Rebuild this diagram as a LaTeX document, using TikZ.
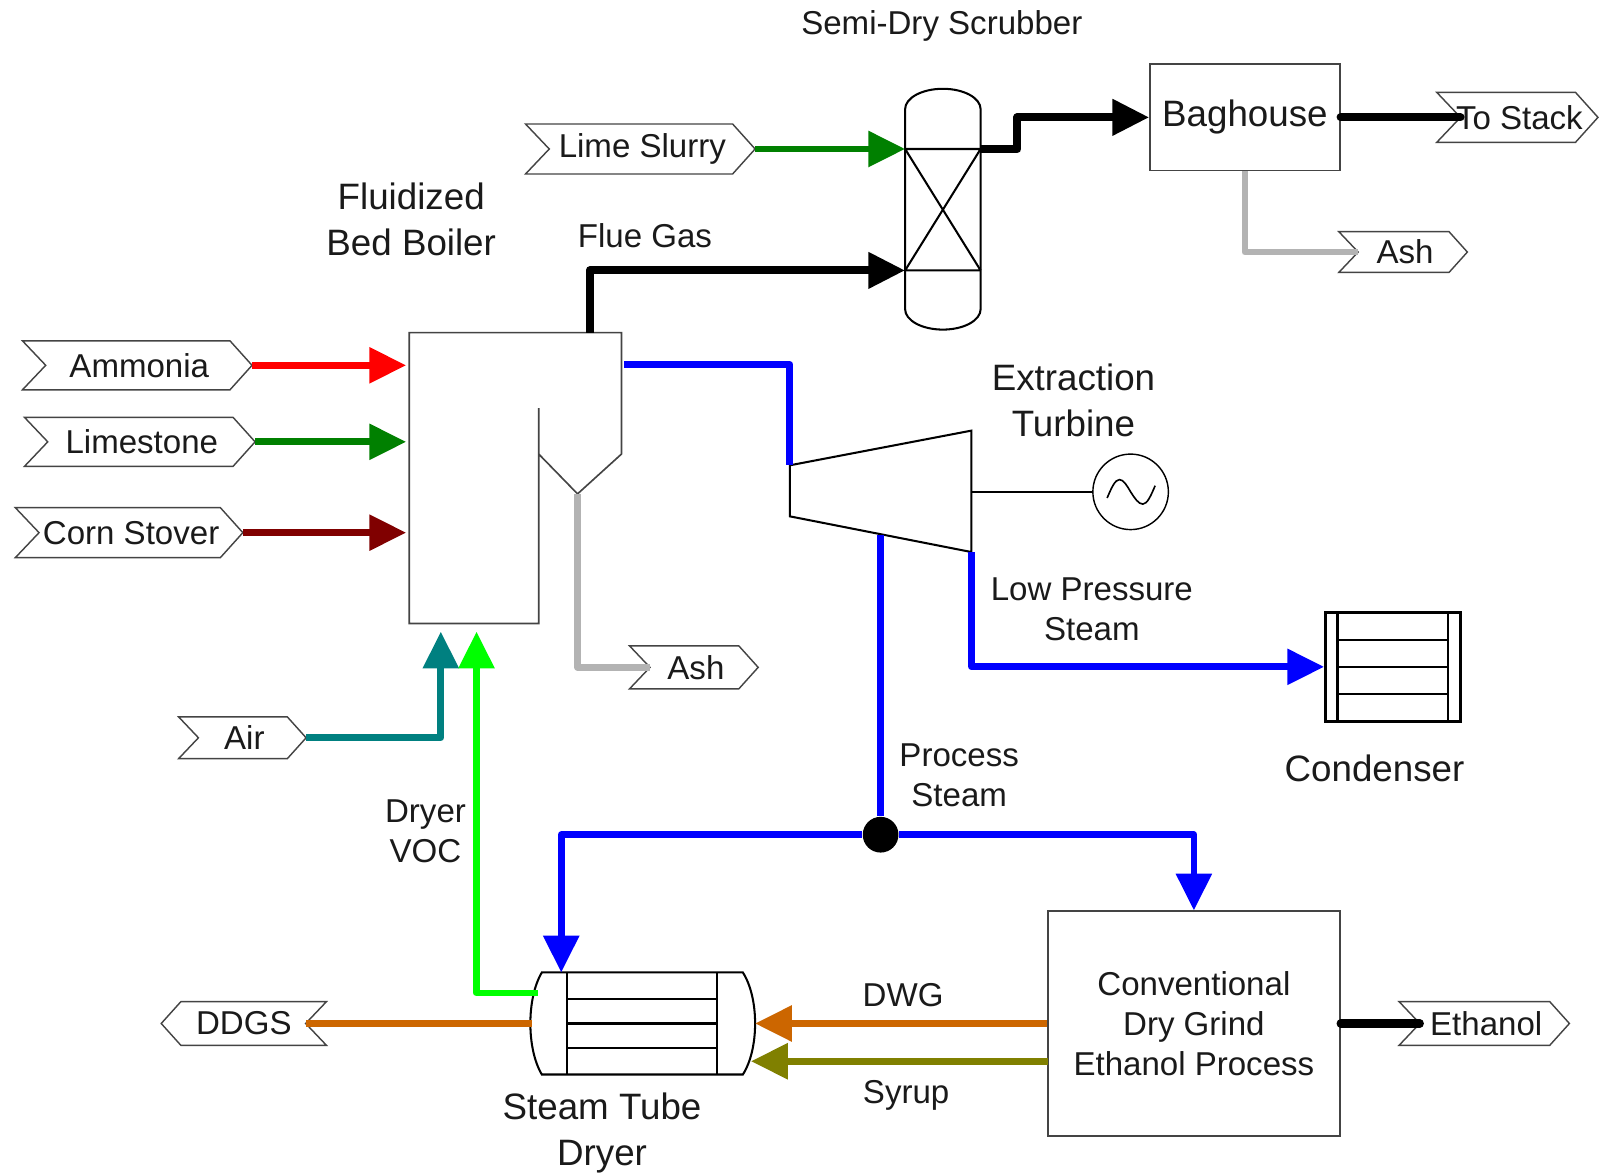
\documentclass[tikz,border=0pt]{standalone}
\usepackage{fontspec}
\setmainfont{Liberation Sans}
\usetikzlibrary{arrows.meta}
\definecolor{txt}{HTML}{1A1A1A}
\definecolor{outl}{HTML}{444444}
\definecolor{cred}{HTML}{FF0000}
\definecolor{cgreen}{HTML}{008000}
\definecolor{cdred}{HTML}{800000}
\definecolor{cteal}{HTML}{008080}
\definecolor{clime}{HTML}{00FF00}
\definecolor{cgray}{HTML}{B3B3B3}
\definecolor{cblue}{HTML}{0000FF}
\definecolor{corange}{HTML}{CC6600}
\definecolor{colive}{HTML}{808000}
\tikzset{
  big/.style={font=\fontsize{18}{22.5}\selectfont, align=center, text=txt, inner sep=0pt},
  small/.style={font=\fontsize{16.2}{19.5}\selectfont, align=center, text=txt, inner sep=0pt},
  tagline/.style={draw=outl, line width=0.7pt, fill=white},
  equip/.style={draw=outl, line width=0.8pt},
  equipk/.style={draw=black, line width=1pt},
  stream/.style={line width=3.3pt, line join=round},
  thick stream/.style={line width=4pt, line join=round},
  arr/.style={-{Triangle[length=18pt,width=17pt]}},
}
\newcommand\tagR[6]{%
  \draw[tagline] (#2,#4-#5) -- (#3-0.9*#5,#4-#5) -- (#3,#4) -- (#3-0.9*#5,#4+#5) -- (#2,#4+#5) -- (#2+0.95*#5,#4) -- cycle;
  \node[small] (#1) at ({(#2+#3)/2+2},#4) {#6};
  \coordinate (#1-in) at (#2+0.95*#5,#4);
  \coordinate (#1-out) at (#3,#4);
}
\newcommand\tagL[6]{%
  \draw[tagline] (#2,#4) -- (#2+0.9*#5,#4-#5) -- (#3,#4-#5) -- (#3-0.95*#5,#4) -- (#3,#4+#5) -- (#2+0.9*#5,#4+#5) -- cycle;
  \node[small] (#1) at ({(#2+#3)/2},#4) {#6};
  \coordinate (#1-in) at (#3-0.95*#5,#4);
}
\begin{document}
\begin{tikzpicture}[x=0.5pt,y=-0.5pt]
\useasboundingbox[fill=white] (0,0) rectangle (1568,1152);

% ---------- labels ----------
\node[small] (lscr) at (923,25) {Semi-Dry Scrubber};
\node[big] (lblr) at (403,215) {Fluidized\\Bed Boiler};
\node[small] (lflue) at (632,231) {Flue Gas};
\node[big] (lturb) at (1052,392) {Extraction\\Turbine};
\node[small] (llp) at (1070,597) {Low Pressure\\Steam};
\node[big] (lcond) at (1347,753) {Condenser};
\node[small] (lps) at (940,760) {Process\\Steam};
\node[small] (lvoc) at (417,815) {Dryer\\VOC};
\node[small] (ldwg) at (885,975) {DWG};
\node[small] (lsyr) at (888,1073) {Syrup};
\node[big] (ldry) at (590,1110) {Steam Tube\\Dryer};

% ---------- tags ----------
\tagR{ammonia}{22}{247}{358}{24}{Ammonia}
\tagR{limestone}{24}{250}{433}{24}{Limestone}
\tagR{corn}{15}{238}{522}{24.5}{Corn Stover}
\tagR{lime}{515}{740}{146}{24.5}{Lime Slurry}
\tagR{stack}{1408}{1566}{115}{24.5}{To Stack}
\tagR{ashA}{1312}{1438}{247}{20}{Ash}
\tagR{ashB}{617}{743}{654}{21}{Ash}
\tagR{air}{175}{300}{723}{20.5}{Air}
\tagR{ethanol}{1371}{1538}{1003}{21.5}{Ethanol}
\tagL{ddgs}{158}{320}{1003}{21.5}{DDGS}

% ---------- boiler ----------
\draw[equip] (528,400) -- (528,611) -- (401,611) -- (401,326) -- (609,326) -- (609,445) -- (566,484) -- (528,445);
\coordinate (blr-nh3) at (398,358);
\coordinate (blr-lst) at (398,433);
\coordinate (blr-cs) at (398,522);
\coordinate (blr-top) at (578,326);
\coordinate (blr-st) at (612,357);
\coordinate (blr-hop) at (566,484);
\coordinate (blr-air) at (432,619);
\coordinate (blr-voc) at (467,619);

% ---------- scrubber ----------
\draw[equipk] (887,303) -- (887,107) arc[start angle=180,end angle=0,x radius=18.5pt,y radius=10pt]
  -- (961,303) arc[start angle=0,end angle=-180,x radius=18.5pt,y radius=10pt] -- cycle;
\draw[equipk] (887,146) -- (961,146) (887,265) -- (961,265)
  (887,146) -- (961,265) (961,146) -- (887,265);
\coordinate (scr-top) at (887,146);
\coordinate (scr-bot) at (887,265);
\coordinate (scr-out) at (961,146);

% ---------- baghouse ----------
\node[big, draw=outl, line width=0.8pt, minimum width=93pt, minimum height=52pt] (bag) at (1220,115) {Baghouse};

% ---------- turbine + generator ----------
\draw[equipk] (774,456) -- (952,422) -- (952,541) -- (774,506) -- cycle;
\coordinate (tin) at (774,456);
\coordinate (tout) at (952,541);
\coordinate (tps) at (863,524);
\coordinate (tshaft) at (952,482);
\node[draw=black, line width=0.7pt, circle, minimum size=37pt, inner sep=0pt] (gen) at (1108,482) {};
\draw[line width=0.7pt] (tshaft) -- (gen.west);
\draw[line width=0.8pt] (1085,488) sin (1097,470) cos (1108,482) sin (1120,494) cos (1132,476);

% ---------- condenser ----------
\node[draw=black, line width=1.4pt, minimum width=66pt, minimum height=53.5pt, inner sep=0pt] (cond) at (1365,653.5) {};
\draw[line width=1.3pt] (1311,600) -- (1311,707) (1419,600) -- (1419,707);
\draw[line width=1.1pt] (1311,627) -- (1419,627) (1311,654) -- (1419,654) (1311,680) -- (1419,680);

% ---------- dryer ----------
\draw[equipk] (531,953) -- (728,953) .. controls (744,978) and (744,1028) .. (728,1053)
  -- (531,1053) .. controls (516,1028) and (516,978) .. (531,953) -- cycle;
\draw[equipk] (556,953) -- (556,1053) (703,953) -- (703,1053);
\draw[equipk] (556,979) -- (703,979) (556,1003) -- (703,1003) (556,1027) -- (703,1027);
\coordinate (dry-top) at (550,953);
\coordinate (dry-voc) at (527,973);
\coordinate (dry-l) at (521,1003);
\coordinate (dry-r) at (740,1003);
\coordinate (dry-r2) at (736,1040);

% ---------- ethanol process ----------
\node[small, draw=outl, line width=0.8pt, minimum width=143pt, minimum height=110pt] (eth) at (1170,1003) {Conventional\\Dry Grind\\Ethanol Process};
\coordinate (eth-syr) at (1027,1040);

% ---------- junction ----------
\node[circle, fill=black, minimum size=17.5pt, inner sep=0pt] (junc) at (863,818) {};

% ---------- streams ----------
\draw[stream, arr, cred] (ammonia-out) -- (blr-nh3);
\draw[stream, arr, cgreen] (limestone-out) -- (blr-lst);
\draw[stream, arr, cdred] (corn-out) -- (blr-cs);
\draw[stream, arr, cgreen] (lime-out) -- (scr-top);
\draw[thick stream, arr, black] (blr-top) |- (scr-bot);
\draw[thick stream, arr, black] (scr-out) -- (997,146) -- (997,115) -- (bag.west);
\draw[thick stream, black, line cap=round] (bag.east) -- (stack-in);
\draw[stream, cgray] (bag.south) |- (ashA-in);
\draw[stream, cgray] (blr-hop) |- (ashB-in);
\draw[stream, cblue] (blr-st) -| (tin);
\draw[stream, cblue, arr] (tout) |- (cond.west);
\draw[stream, cblue] (tps) -- (junc);
\draw[stream, cblue, arr] (junc) -| (dry-top);
\draw[stream, cblue, arr] (junc) -| (eth.north);
\draw[stream, cteal, arr] (air-out) -| (blr-air);
\draw[stream, clime, arr] (dry-voc) -| (blr-voc);
\draw[stream, corange] (dry-l) -- (ddgs-in);
\draw[stream, corange, arr] (eth.west) -- (dry-r);
\draw[stream, colive, arr] (eth-syr) -- (dry-r2);
\draw[thick stream, black, line cap=round] (eth.east) -- (ethanol-in);
\end{tikzpicture}
\end{document}
